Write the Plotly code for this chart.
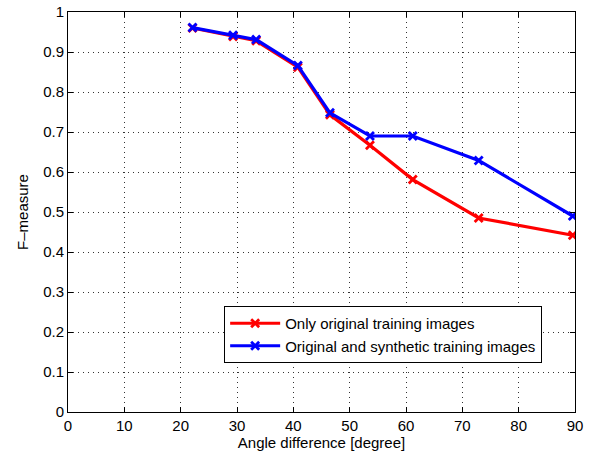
import plotly.graph_objects as go

angles = [22.1, 29.3, 33.4, 40.8, 46.5, 53.6, 61.2, 72.9, 89.6]
only_original = [0.960, 0.939, 0.928, 0.862, 0.743, 0.667, 0.581, 0.485, 0.442]
orig_synthetic = [0.961, 0.942, 0.931, 0.866, 0.748, 0.690, 0.690, 0.629, 0.490]
series_names = ["Only original training images", "Original and synthetic training images"]
x_ticks = [0, 10, 20, 30, 40, 50, 60, 70, 80, 90]
y_ticks = [0, 0.1, 0.2, 0.3, 0.4, 0.5, 0.6, 0.7, 0.8, 0.9, 1]
y_tick_text = ["0", "0.1", "0.2", "0.3", "0.4", "0.5", "0.6", "0.7", "0.8", "0.9", "1"]

FONT = "Liberation Sans, Arial, Helvetica, sans-serif"

fig = go.Figure()
for vals, name, col in [(only_original, series_names[0], "#ff0000"),
                        (orig_synthetic, series_names[1], "#0000ff")]:
    fig.add_trace(go.Scatter(
        x=angles, y=vals, name=name, mode="lines+markers",
        line=dict(color=col, width=3.2),
        marker=dict(symbol="x-thin", size=8, color=col, line=dict(color=col, width=2.8)),
    ))

axis_common = dict(
    showline=True, linecolor="#000000", linewidth=1, mirror="ticks",
    ticks="inside", ticklen=5, tickcolor="#000000",
    showgrid=True, gridcolor="#333333", griddash="1px,4px", gridwidth=1,
    zeroline=False, automargin=False, ticklabeloverflow="allow",
    tickfont=dict(family=FONT, size=15, color="#000000"),
)

fig.update_xaxes(range=[0, 90], tickvals=x_ticks,
                 title=dict(text="Angle difference [degree]", standoff=0,
                            font=dict(family=FONT, size=15, color="#000000")),
                 **axis_common)
fig.update_yaxes(range=[0, 1], tickvals=y_ticks, ticktext=y_tick_text,
                 title=dict(text="F\u2013measure", standoff=10,
                            font=dict(family=FONT, size=15, color="#000000")),
                 **axis_common)

fig.update_layout(
    width=611, height=457,
    margin=dict(l=68, r=36, t=12, b=45),
    paper_bgcolor="#ffffff", plot_bgcolor="#ffffff",
    showlegend=True,
    legend=dict(
        x=0.308, y=0.265, xanchor="left", yanchor="top",
        bgcolor="#ffffff", bordercolor="#000000", borderwidth=1,
        font=dict(family=FONT, size=15, color="#000000"),
        tracegroupgap=0, itemwidth=50,
    ),
)

fig.write_html("out.html",
               config={"displayModeBar": False},
               post_script="document.body.style.margin='0';document.body.style.overflow='hidden';")
